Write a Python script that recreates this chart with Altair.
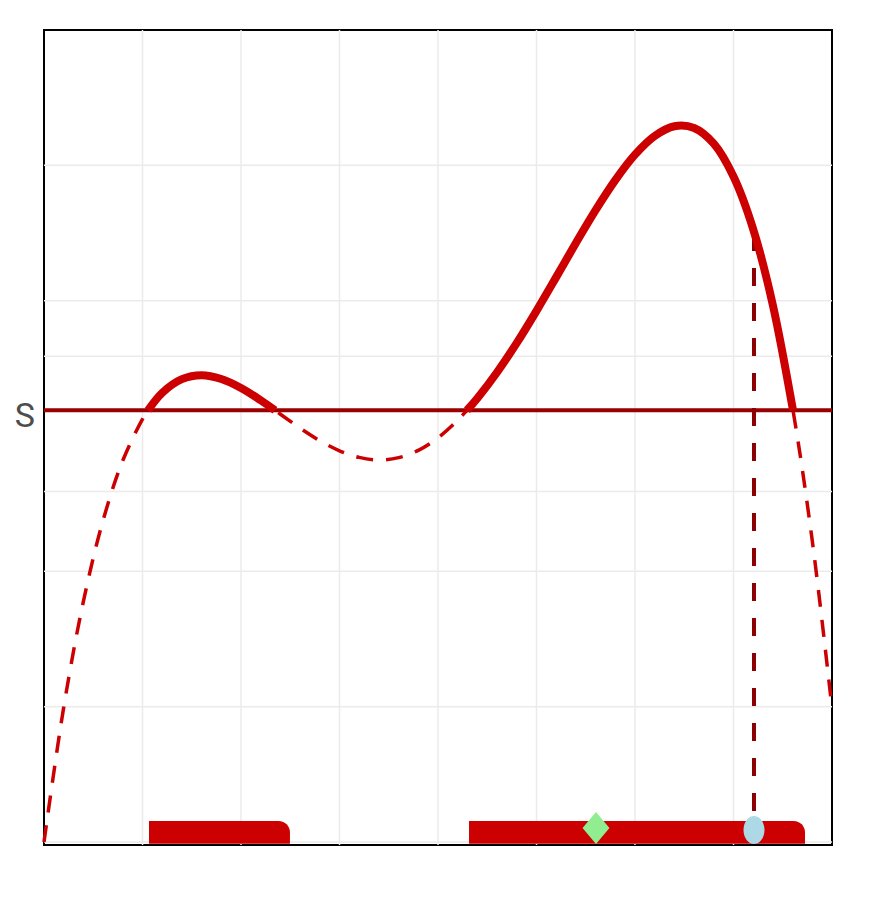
import altair as alt
import pandas as pd

# ---- data ----
S_LEVEL = 3.19
curve_x = [0.0, 0.2, 0.4, 0.6, 0.8, 1.0, 1.056, 1.2, 1.4, 1.6, 1.8, 2.0, 2.2, 2.345,
           2.4, 2.6, 2.8, 3.0, 3.2, 3.4, 3.6, 3.8, 4.0, 4.2, 4.294, 4.4, 4.6, 4.8,
           5.0, 5.2, 5.4, 5.6, 5.8, 6.0, 6.2, 6.4, 6.6, 6.8, 7.0, 7.2, 7.4, 7.604,
           7.8, 8.0]
curve_y = [0.0, 0.995, 1.778, 2.378, 2.819, 3.125, 3.19, 3.319, 3.420, 3.449, 3.421, 3.355,
           3.264, 3.19, 3.161, 3.058, 2.965, 2.891, 2.842, 2.823, 2.840, 2.894, 2.986, 3.116,
           3.19, 3.279, 3.471, 3.688, 3.925, 4.174, 4.426, 4.669, 4.891, 5.079, 5.217, 5.289,
           5.276, 5.160, 4.917, 4.528, 3.966, 3.19, 2.224, 0.989]

grid_x = [1, 2, 3, 4, 5, 6, 7]
grid_y = [0, 1, 2, 2.59, 3.59, 4, 5]

bar_start = [1.066, 4.315]
bar_end = [2.497, 7.726]
bar_top = [0.155, 0.155]

diamond_x, diamond_y = [5.604], [0.104]
ellipse_x, ellipse_y = [7.208], [0.089]
vline_x, vline_y0, vline_y1 = [7.208], [0.229], [4.50]

X_DOMAIN = [0, 8]
Y_DOMAIN = [-0.022, 6.0]

# ---- tables ----
curve = pd.DataFrame({"x": curve_x, "y": curve_y})
seg, ids, prev = 0, [], False
for v in curve_y:
    above = v >= S_LEVEL - 1e-9
    if above and not prev:
        seg += 1
    ids.append(seg if above else 0)
    prev = above
curve["seg"] = ids
solid = curve[curve["seg"] > 0]

xs = alt.Scale(domain=X_DOMAIN, nice=False, zero=False)
ys = alt.Scale(domain=Y_DOMAIN, nice=False, zero=False)

gx = alt.Chart(pd.DataFrame({"g": grid_x})).mark_rule(color="#EBEBEB", strokeWidth=1.5).encode(
    x=alt.X("g:Q", scale=xs, axis=None))
gy = alt.Chart(pd.DataFrame({"g": grid_y})).mark_rule(color="#EBEBEB", strokeWidth=1.5).encode(
    y=alt.Y("g:Q", scale=ys, axis=None))

sline = alt.Chart(pd.DataFrame({"s": [S_LEVEL], "a": [X_DOMAIN[0]], "b": [X_DOMAIN[1]]})).mark_rule(
    color="#990000", strokeWidth=4).encode(
    x=alt.X("a:Q", scale=xs, axis=None), x2="b:Q", y=alt.Y("s:Q", scale=ys, axis=None))

slabel = alt.Chart(pd.DataFrame({"s": [S_LEVEL], "t": ["S"]})).mark_text(
    align="right", baseline="middle", dy=7, fontSize=34, font="Roboto",
    color="#4D4D4D").encode(
    x=alt.value(-9), y=alt.Y("s:Q", scale=ys, axis=None), text="t:N")

dashed = alt.Chart(curve).mark_line(color="#CC0000", strokeWidth=3.5, strokeDash=[17, 13],
                                    interpolate="catmull-rom").encode(
    x=alt.X("x:Q", scale=xs, axis=None), y=alt.Y("y:Q", scale=ys, axis=None), order="x:Q")

vline = alt.Chart(pd.DataFrame({"x": vline_x, "y0": vline_y0, "y1": vline_y1})).mark_rule(
    color="#8B0000", strokeWidth=4, strokeDash=[18, 17]).encode(
    x=alt.X("x:Q", scale=xs, axis=None), y=alt.Y("y0:Q", scale=ys, axis=None), y2="y1:Q")

solid_line = alt.Chart(solid).mark_line(color="#CC0000", strokeWidth=8, strokeCap="butt",
                                        interpolate="catmull-rom").encode(
    x=alt.X("x:Q", scale=xs, axis=None), y=alt.Y("y:Q", scale=ys, axis=None),
    detail="seg:N", order="x:Q")

bars = alt.Chart(pd.DataFrame({"a": bar_start, "b": bar_end, "t": bar_top,
                               "z": [Y_DOMAIN[0] + 0.01] * len(bar_start)})).mark_bar(
    color="#CC0000", cornerRadiusTopRight=14).encode(
    x=alt.X("a:Q", scale=xs, axis=None), x2="b:Q",
    y=alt.Y("z:Q", scale=ys, axis=None), y2="t:Q")

diamond = alt.Chart(pd.DataFrame({"x": diamond_x, "y": diamond_y})).mark_point(
    shape="M0,-1L0.84,0L0,1L-0.84,0Z", filled=True, color="#90EE90", opacity=1, size=1024,
    strokeWidth=0).encode(
    x=alt.X("x:Q", scale=xs, axis=None), y=alt.Y("y:Q", scale=ys, axis=None))

ellipse = alt.Chart(pd.DataFrame({"x": ellipse_x, "y": ellipse_y})).mark_point(
    shape="M0,-1A0.75,1,0,1,1,0,1A0.75,1,0,1,1,0,-1Z", filled=True, color="#ADD8E6",
    opacity=1, size=784, strokeWidth=0).encode(
    x=alt.X("x:Q", scale=xs, axis=None), y=alt.Y("y:Q", scale=ys, axis=None))

chart = alt.layer(gx, gy, sline, dashed, vline, solid_line, bars, diamond, ellipse, slabel).properties(
    width=788, height=815,
    autosize=alt.AutoSizeParams(type="none"),
    padding={"left": 36, "top": 22, "right": 20, "bottom": 30},
    background="white",
).configure_view(stroke="black", strokeWidth=2)

chart.save("out.html", embed_options={"renderer": "svg", "actions": False})
